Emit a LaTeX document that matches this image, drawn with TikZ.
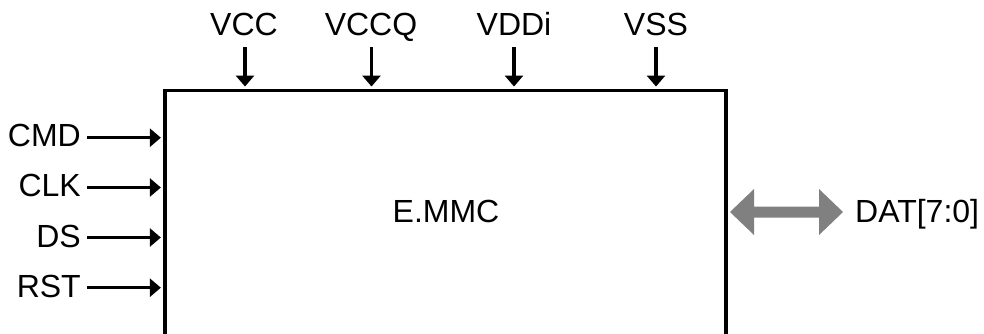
\documentclass[tikz,border=0pt]{standalone}
\usepackage{fontspec}
\setmainfont{Liberation Sans}
\usetikzlibrary{arrows.meta}
\begin{document}
\begin{tikzpicture}[x=1pt,y=-1pt,
  lbl/.style={font=\fontsize{32}{37}\selectfont, inner sep=0pt},
  sig/.style={line width=3.3pt, -{Triangle[length=11pt,width=18pt]}, shorten >=2.5pt},
  chip/.style={draw, line width=3.3pt, minimum width=561pt, minimum height=260pt, inner sep=0pt}]
\useasboundingbox (0,0) rectangle (984,333);
\clip (0,0) rectangle (984,333);
\node[chip] (box) at (445.5,220.7) {};
\node[lbl, anchor=base] (emmc) at (446,222) {E.MMC};
% top supply pins
\node[lbl, anchor=base] (vcc)  at (244,35) {VCC};
\node[lbl, anchor=base] (vccq) at (371,35) {VCCQ};
\node[lbl, anchor=base] (vddi) at (514,35) {VDDi};
\node[lbl, anchor=base] (vss)  at (656,35) {VSS};
\coordinate (vcct)  at (245,47);
\coordinate (vccqt) at (371.5,47);
\coordinate (vddit) at (514,47);
\coordinate (vsst)  at (656,47);
\draw[sig] (vcct)  -- (vcct  |- box.north);
\draw[sig] (vccqt) -- (vccqt |- box.north);
\draw[sig] (vddit) -- (vddit |- box.north);
\draw[sig] (vsst)  -- (vsst  |- box.north);
% left inputs
\node[lbl, anchor=base east] (cmd) at (81,146.7) {CMD};
\node[lbl, anchor=base east] (clk) at (81,196.7) {CLK};
\node[lbl, anchor=base east] (ds)  at (81,247.2) {DS};
\node[lbl, anchor=base east] (rst) at (81,297.2) {RST};
\coordinate (cmds) at (87,137.7);
\coordinate (clks) at (87,187.5);
\coordinate (dss)  at (87,237.5);
\coordinate (rsts) at (87,287.7);
\draw[sig] (cmds) -- (cmds -| box.west);
\draw[sig] (clks) -- (clks -| box.west);
\draw[sig] (dss)  -- (dss  -| box.west);
\draw[sig] (rsts) -- (rsts -| box.west);
% data bus
\node[lbl, anchor=base west] (dat) at (855,222) {DAT[7:0]};
\fill[gray] (730,212) -- (754,189) -- (754,206.5) -- (819,206.5) -- (819,189)
  -- (843,212) -- (819,235) -- (819,217.5) -- (754,217.5) -- (754,235) -- cycle;
\end{tikzpicture}
\end{document}
